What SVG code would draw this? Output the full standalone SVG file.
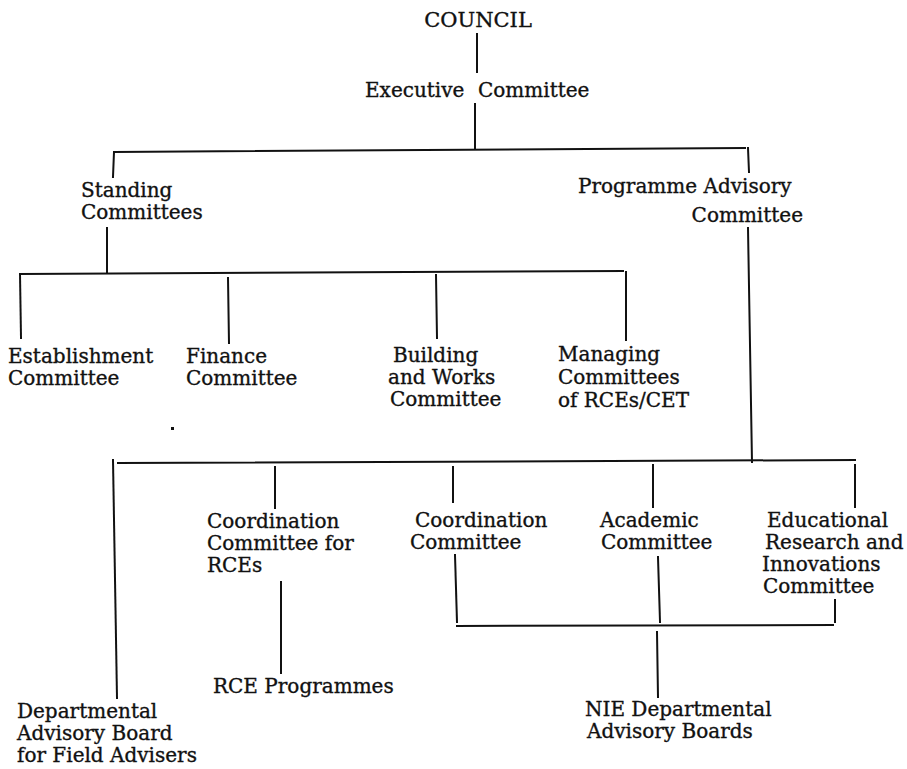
<svg xmlns="http://www.w3.org/2000/svg" width="907" height="769" viewBox="0 0 907 769">
<style>
text{font-family:"DejaVu Serif","Liberation Serif",serif;font-size:20px;fill:#111;stroke:#111;stroke-width:0.35}
.big{font-size:21px}
#connectors line{stroke:#111;stroke-width:2;stroke-linecap:square}
</style>
<rect width="907" height="769" fill="#fff"/>
<g id="connectors">
<line x1="477" y1="34" x2="477" y2="72"/>
<line x1="475" y1="104" x2="475" y2="148"/>
<line x1="114" y1="152" x2="745" y2="148"/>
<line x1="114" y1="152" x2="113" y2="177"/>
<line x1="748" y1="148" x2="749" y2="172"/>
<line x1="107" y1="228" x2="107" y2="273"/>
<line x1="20" y1="274" x2="623" y2="271"/>
<line x1="20" y1="274" x2="21" y2="338"/>
<line x1="228" y1="278" x2="229" y2="343"/>
<line x1="436" y1="275" x2="437" y2="338"/>
<line x1="626" y1="272" x2="626" y2="340"/>
<line x1="748" y1="228" x2="752" y2="462"/>
<line x1="118" y1="463" x2="855" y2="460"/>
<line x1="113" y1="460" x2="117" y2="698"/>
<line x1="275" y1="467" x2="275" y2="508"/>
<line x1="281" y1="582" x2="281" y2="673"/>
<line x1="453" y1="467" x2="453" y2="502"/>
<line x1="653" y1="465" x2="653" y2="507"/>
<line x1="855" y1="465" x2="855" y2="507"/>
<line x1="455" y1="555" x2="457" y2="622"/>
<line x1="658" y1="557" x2="660" y2="622"/>
<line x1="835" y1="600" x2="835" y2="622"/>
<line x1="457" y1="626" x2="833" y2="625"/>
<line x1="657" y1="632" x2="658" y2="697"/>
</g>
<rect x="171" y="427" width="3" height="3" fill="#111"/>
<g id="council"><text class="big" x="478" y="27" text-anchor="middle">COUNCIL</text></g>
<g id="executive"><text y="97"><tspan x="365">Executive</tspan><tspan x="478">Committee</tspan></text></g>
<g id="standing"><text x="81" y="197">Standing</text><text x="81" y="219">Committees</text></g>
<g id="pac"><text x="578" y="193">Programme Advisory</text><text x="803" y="222" text-anchor="end">Committee</text></g>
<g id="establishment"><text x="8" y="363">Establishment</text><text x="8" y="385">Committee</text></g>
<g id="finance"><text x="186" y="363">Finance</text><text x="186" y="385">Committee</text></g>
<g id="building"><text x="393" y="362">Building</text><text x="388" y="384">and Works</text><text x="390" y="406">Committee</text></g>
<g id="managing"><text x="558" y="361">Managing</text><text x="558" y="384">Committees</text><text x="558" y="407">of RCEs/CET</text></g>
<g id="coord-rces"><text x="207" y="528">Coordination</text><text x="207" y="550">Committee for</text><text x="207" y="572">RCEs</text></g>
<g id="rce-programmes"><text x="213" y="693">RCE Programmes</text></g>
<g id="dept-advisory"><text x="17" y="718">Departmental</text><text x="17" y="740">Advisory Board</text><text x="17" y="762">for Field Advisers</text></g>
<g id="coordination"><text x="415" y="527">Coordination</text><text x="410" y="549">Committee</text></g>
<g id="academic"><text x="600" y="527">Academic</text><text x="601" y="549">Committee</text></g>
<g id="educational"><text x="767" y="527">Educational</text><text x="765" y="549">Research and</text><text x="762" y="571">Innovations</text><text x="763" y="593">Committee</text></g>
<g id="nie"><text x="585" y="716">NIE Departmental</text><text x="587" y="738">Advisory Boards</text></g>
</svg>
